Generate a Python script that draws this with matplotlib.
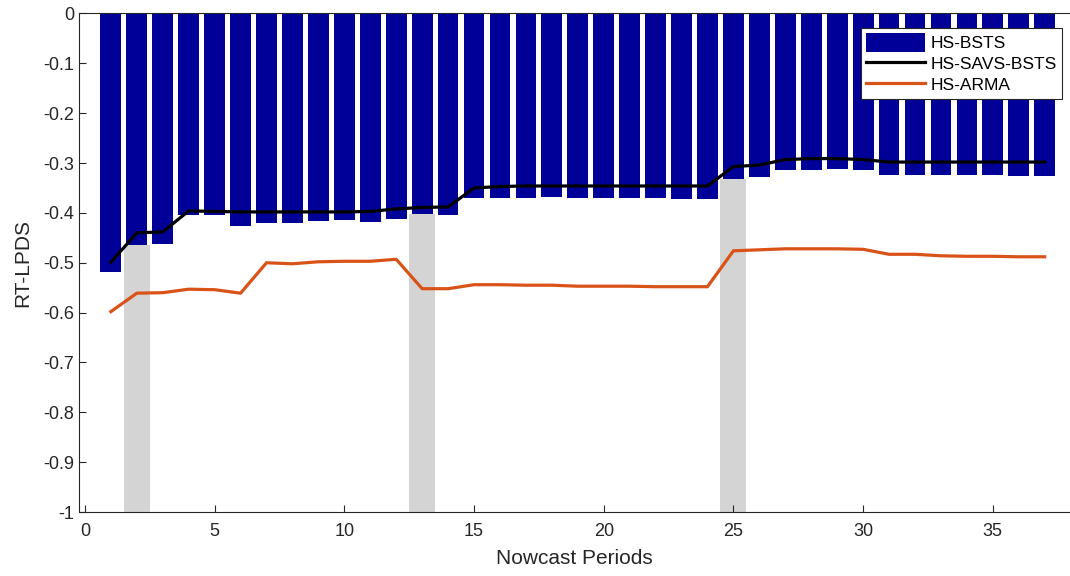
import matplotlib

matplotlib.use("Agg")

import matplotlib.pyplot as plt  # noqa: E402
import numpy as np  # noqa: E402
from matplotlib.ticker import FuncFormatter  # noqa: E402

# values
periods = list(range(1, 38))

hs_bsts = [
    -0.518, -0.465, -0.463, -0.405, -0.405, -0.426, -0.420, -0.421, -0.416, -0.415,
    -0.418, -0.412, -0.403, -0.405, -0.370, -0.370, -0.371, -0.368, -0.370, -0.370,
    -0.371, -0.371, -0.372, -0.372, -0.331, -0.328, -0.313, -0.313, -0.312, -0.313,
    -0.323, -0.323, -0.324, -0.324, -0.324, -0.325, -0.325,
]

hs_savs_bsts = [
    -0.499, -0.440, -0.438, -0.396, -0.397, -0.398, -0.398, -0.398, -0.398, -0.398,
    -0.397, -0.392, -0.389, -0.388, -0.350, -0.347, -0.346, -0.346, -0.346, -0.346,
    -0.346, -0.346, -0.346, -0.346, -0.307, -0.304, -0.293, -0.291, -0.291, -0.293,
    -0.298, -0.298, -0.298, -0.298, -0.298, -0.298, -0.298,
]

hs_arma = [
    -0.598, -0.561, -0.560, -0.553, -0.554, -0.561, -0.500, -0.502, -0.498, -0.497,
    -0.497, -0.493, -0.552, -0.552, -0.544, -0.544, -0.545, -0.545, -0.547, -0.547,
    -0.547, -0.548, -0.548, -0.548, -0.476, -0.474, -0.472, -0.472, -0.472, -0.473,
    -0.483, -0.483, -0.486, -0.487, -0.487, -0.488, -0.488,
]

# periods highlighted with grey columns
shaded = [2, 13, 25]

xticks = [0, 5, 10, 15, 20, 25, 30, 35]
yticks = [0, -0.1, -0.2, -0.3, -0.4, -0.5, -0.6, -0.7, -0.8, -0.9, -1]

plt.rcParams["font.family"] = ["Liberation Sans", "DejaVu Sans"]
plt.rcParams["axes.unicode_minus"] = False

fig = plt.figure(figsize=(10.7, 5.76), dpi=100)
ax = fig.add_axes([0.0738, 0.111, 0.9268, 0.8656])

idx = [periods.index(p) for p in shaded]
shade_top = np.array([hs_bsts[i] for i in idx])
ax.bar(shaded, shade_top + 1.0, bottom=-1.0, width=1.0, color="#d4d4d4",
       linewidth=0, zorder=1)

bars = ax.bar(periods, hs_bsts, width=0.8, color="#000099", linewidth=0,
              label="HS-BSTS", zorder=2)
(savs_line,) = ax.plot(periods, hs_savs_bsts, color="black", linewidth=2.3,
                       label="HS-SAVS-BSTS", zorder=3)
(arma_line,) = ax.plot(periods, hs_arma, color="#D95319", linewidth=2.3,
                       label="HS-ARMA", zorder=3)

ax.set_xlim(-0.23, 38)
ax.set_ylim(-1, 0)
ax.set_xticks(xticks)
ax.set_yticks(yticks)
ax.yaxis.set_major_formatter(FuncFormatter(lambda v, _: f"{v:g}"))

for side in ["left", "bottom", "top"]:
    ax.spines[side].set_color("#262626")
    ax.spines[side].set_linewidth(0.8)
ax.spines["right"].set_visible(False)
ax.tick_params(direction="in", length=5, width=0.8, colors="#262626",
               labelsize=13, labelcolor="#262626")
ax.tick_params(axis="x", pad=8)

ax.set_xlabel("Nowcast Periods", fontsize=15, color="#262626", labelpad=6)
ax.set_ylabel("RT-LPDS", fontsize=15, color="#262626", labelpad=8)

leg = ax.legend([bars, savs_line, arma_line],
                ["HS-BSTS", "HS-SAVS-BSTS", "HS-ARMA"],
                loc="upper right", bbox_to_anchor=(0.991, 0.971), fontsize=12.5,
                frameon=True, fancybox=False, framealpha=1.0,
                handlelength=3.4, handleheight=1.25,
                borderpad=0.3, labelspacing=0.15, handletextpad=0.3,
                borderaxespad=0.0)
leg.get_frame().set_edgecolor("#262626")
leg.get_frame().set_linewidth(0.8)
leg.set_zorder(5)

fig.savefig("out.png", dpi=100)
plt.close(fig)
